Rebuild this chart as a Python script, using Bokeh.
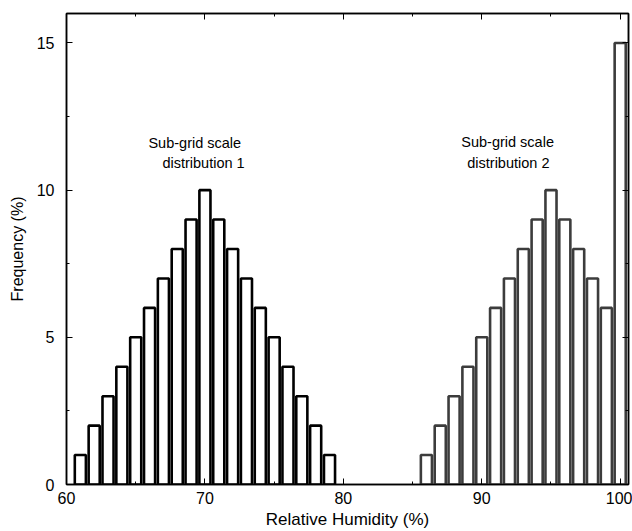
from bokeh.plotting import figure
from bokeh.models import Range1d, LinearAxis, SingleIntervalTicker, Label, ColumnDataSource, CustomJSTickFormatter
from bokeh.embed import file_html
from bokeh.resources import INLINE

# Data
rh1 = [61, 62, 63, 64, 65, 66, 67, 68, 69, 70, 71, 72, 73, 74, 75, 76, 77, 78, 79]
freq1 = [1, 2, 3, 4, 5, 6, 7, 8, 9, 10, 9, 8, 7, 6, 5, 4, 3, 2, 1]
rh2 = [86, 87, 88, 89, 90, 91, 92, 93, 94, 95, 96, 97, 98, 99, 100]
freq2 = [1, 2, 3, 4, 5, 6, 7, 8, 9, 10, 9, 8, 7, 6, 15]
x_label = "Relative Humidity (%)"
y_label = "Frequency (%)"
label1 = ["Sub-grid scale", "distribution 1"]
label2 = ["Sub-grid scale", "distribution 2"]

FONT = "Liberation Sans"

p = figure(width=632, height=531, output_backend="svg", toolbar_location=None,
           x_range=Range1d(60, 100.6), y_range=Range1d(0, 16),
           min_border_left=66, min_border_right=4, min_border_top=13, min_border_bottom=47,
           x_axis_location=None, y_axis_location=None)
p.grid.visible = False
p.outline_line_color = "black"
p.outline_line_width = 1.5
p.background_fill_color = "white"
p.border_fill_color = "white"

src1 = ColumnDataSource(dict(x=rh1, top=freq1))
src2 = ColumnDataSource(dict(x=rh2, top=freq2))
p.vbar(x="x", top="top", bottom=0, width=0.8, source=src1,
       fill_color="white", line_color="black", line_width=2.6)
p.vbar(x="x", top="top", bottom=0, width=0.8, source=src2,
       fill_color="white", line_color="#3c3c3c", line_width=2.6)

def style(ax):
    ax.axis_line_color = "black"
    ax.axis_line_width = 1.5
    ax.major_tick_in = 6
    ax.major_tick_out = 0
    ax.minor_tick_in = 3
    ax.minor_tick_out = 0
    ax.major_tick_line_color = "black"
    ax.minor_tick_line_color = "black"
    ax.major_label_text_font = FONT
    ax.major_label_text_color = "black"
    ax.axis_label_text_color = "black"

xb = LinearAxis(ticker=SingleIntervalTicker(interval=10, num_minor_ticks=2))
style(xb)
xb.major_label_text_font_size = "16px"
xb.major_label_standoff = 7
xb.axis_label = x_label
xb.axis_label_text_font = FONT
xb.axis_label_text_font_size = "17px"
xb.axis_label_text_font_style = "normal"
xb.axis_label_standoff = 3
p.add_layout(xb, "below")

yl = LinearAxis(ticker=SingleIntervalTicker(interval=5, num_minor_ticks=2))
style(yl)
yl.major_label_text_font_size = "16px"
yl.major_label_standoff = 12
yl.axis_label = y_label
yl.axis_label_text_font = FONT
yl.axis_label_text_font_size = "16px"
yl.axis_label_text_font_style = "normal"
yl.axis_label_standoff = 8
p.add_layout(yl, "left")

blank = CustomJSTickFormatter(code="return '';")
xt = LinearAxis(ticker=SingleIntervalTicker(interval=10, num_minor_ticks=2), formatter=blank)
style(xt)
xt.major_label_standoff = 0
p.add_layout(xt, "above")

yr = LinearAxis(ticker=SingleIntervalTicker(interval=5, num_minor_ticks=2), formatter=blank)
style(yr)
yr.major_label_standoff = 0
p.add_layout(yr, "right")

pos1 = [(65.92, 11.6), (66.93, 10.92)]
pos2 = [(88.52, 11.63), (88.95, 10.92)]
for txt, (x, y) in zip(label1 + label2, pos1 + pos2):
    p.add_layout(Label(x=x, y=y, text=txt, text_font=FONT, text_font_size="14.5px",
                       text_baseline="middle", text_align="left", text_color="black"))

open("out.html", "w").write(file_html(p, INLINE))
